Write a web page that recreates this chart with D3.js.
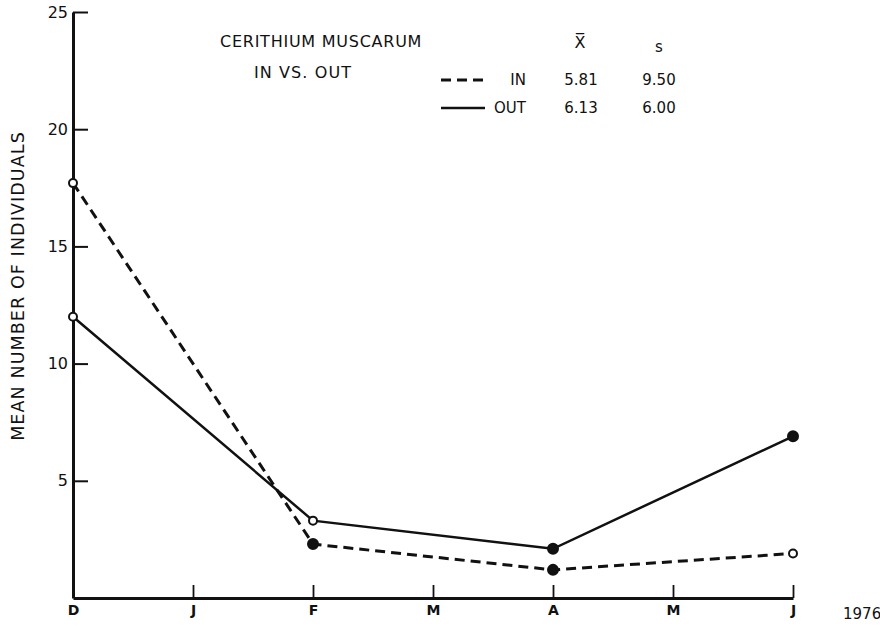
<!DOCTYPE html>
<html>
<head>
<meta charset="utf-8">
<script src="https://cdn.jsdelivr.net/npm/d3@7"></script>
<style>
  body { margin: 0; background: #fff; }
  svg text { font-family: "DejaVu Sans", "Noto Sans", sans-serif; fill: #111; }
</style>
</head>
<body>
<div class="canvas"></div>
<script>
// month ticks, Dec 1975 - Jun 1976
const months = ['D', 'J', 'F', 'M', 'A', 'M', 'J']
const sampleIdx = [0, 2, 4, 6]
const yTicks = [5, 10, 15, 20, 25]

// mean number of individuals
const inValues = [17.7, 2.3, 1.2, 1.9]
const outValues = [12.0, 3.3, 2.1, 6.9]
// marker filled (true) or open (false)
const inFilled = [false, true, true, false]
const outFilled = [false, false, true, true]

// legend stats
const legendNames = ['IN', 'OUT']
const legendMean = ['5.81', '6.13']
const legendSd = ['9.50', '6.00']

const dimensions = { width: 880, height: 628 }
const margin = { top: 12, right: 87, bottom: 30, left: 73 }
const graphWidth = dimensions.width - margin.left - margin.right
const graphHeight = dimensions.height - margin.top - margin.bottom

const svg = d3.select('.canvas')
    .append('svg')
    .attr('width', dimensions.width)
    .attr('height', dimensions.height)

const graph = svg.append('g')
    .attr('transform', `translate(${margin.left}, ${margin.top})`)

const x = d3.scaleLinear()
    .domain([0, months.length - 1])
    .range([0, graphWidth])

const y = d3.scaleLinear()
    .domain([0, 25])
    .range([graphHeight, 0])

// axes
const xAxis = d3.axisBottom(x)
    .tickValues(d3.range(months.length))
    .tickFormat(i => months[i])
    .tickSize(-13)
    .tickSizeOuter(0)
    .tickPadding(7)

const yAxis = d3.axisLeft(y)
    .tickValues(yTicks)
    .tickSize(-15)
    .tickSizeOuter(0)
    .tickPadding(5)

const xAxisGroup = graph.append('g')
    .attr('transform', `translate(0, ${graphHeight})`)
    .call(xAxis)

const yAxisGroup = graph.append('g')
    .call(yAxis)

xAxisGroup.select('.domain').attr('stroke-width', 3).attr('stroke', '#111')
xAxisGroup.selectAll('line').attr('stroke-width', 1.8).attr('stroke', '#111')
xAxisGroup.selectAll('text')
    .attr('font-size', 14)
    .attr('font-weight', 'bold')
    .attr('fill', '#111')

yAxisGroup.select('.domain').attr('stroke-width', 3).attr('stroke', '#111')
yAxisGroup.selectAll('line').attr('stroke-width', 2).attr('stroke', '#111')
yAxisGroup.selectAll('text')
    .attr('font-size', 16)
    .attr('fill', '#111')

// year after last tick
graph.append('text')
    .attr('x', graphWidth + 50)
    .attr('y', graphHeight + 21)
    .attr('font-size', 15)
    .attr('text-anchor', 'start')
    .text('1976')

// y label
svg.append('text')
    .attr('transform', `translate(19, 286) rotate(-90)`)
    .attr('text-anchor', 'middle')
    .attr('dominant-baseline', 'middle')
    .attr('font-size', 17.5)
    .attr('letter-spacing', 1.1)
    .text('MEAN NUMBER OF INDIVIDUALS')

// lines
const line = d3.line()
    .x((d, i) => x(sampleIdx[i]))
    .y(d => y(d))

graph.append('path')
    .datum(inValues)
    .attr('d', line)
    .attr('fill', 'none')
    .attr('stroke', '#111')
    .attr('stroke-width', 3)
    .attr('stroke-dasharray', '10 6')

graph.append('path')
    .datum(outValues)
    .attr('d', line)
    .attr('fill', 'none')
    .attr('stroke', '#111')
    .attr('stroke-width', 2.5)

const drawMarkers = (values, filled) => {
    graph.selectAll(null)
        .data(values)
        .enter()
        .append('circle')
        .attr('cx', (d, i) => x(sampleIdx[i]))
        .attr('cy', d => y(d))
        .attr('r', (d, i) => filled[i] ? 5 : 4)
        .attr('fill', (d, i) => filled[i] ? '#111' : '#fff')
        .attr('stroke', '#111')
        .attr('stroke-width', 2)
}
drawMarkers(inValues, inFilled)
drawMarkers(outValues, outFilled)

// title + legend
const title = svg.append('g')
title.append('text')
    .attr('x', 220).attr('y', 47)
    .attr('font-size', 16)
    .attr('letter-spacing', 0.75)
    .text('CERITHIUM  MUSCARUM')
title.append('text')
    .attr('x', 254).attr('y', 78)
    .attr('font-size', 16)
    .attr('letter-spacing', 1.1)
    .text('IN VS. OUT')

title.append('text')
    .attr('x', 580).attr('y', 48)
    .attr('text-anchor', 'middle')
    .attr('font-size', 16)
    .text('X\u0305')
title.append('text')
    .attr('x', 659).attr('y', 52)
    .attr('text-anchor', 'middle')
    .attr('font-size', 15)
    .text('s')

const legendRows = title.selectAll('g.row')
    .data(legendNames)
    .enter()
    .append('g')
    .attr('class', 'row')
    .attr('transform', (d, i) => `translate(0, ${80 + i * 28})`)

legendRows.append('line')
    .attr('x1', 441).attr('x2', 485)
    .attr('y1', 0).attr('y2', 0)
    .attr('stroke', '#111')
    .attr('stroke-width', (d, i) => i === 0 ? 3 : 2.5)
    .attr('stroke-dasharray', (d, i) => i === 0 ? '10 6' : null)

legendRows.append('text')
    .attr('x', 526).attr('y', 5)
    .attr('text-anchor', 'end')
    .attr('font-size', 15)
    .text(d => d)

legendRows.append('text')
    .attr('x', 581).attr('y', 5)
    .attr('text-anchor', 'middle')
    .attr('font-size', 15)
    .text((d, i) => legendMean[i])

legendRows.append('text')
    .attr('x', 659).attr('y', 5)
    .attr('text-anchor', 'middle')
    .attr('font-size', 15)
    .text((d, i) => legendSd[i])
</script>
</body>
</html>
